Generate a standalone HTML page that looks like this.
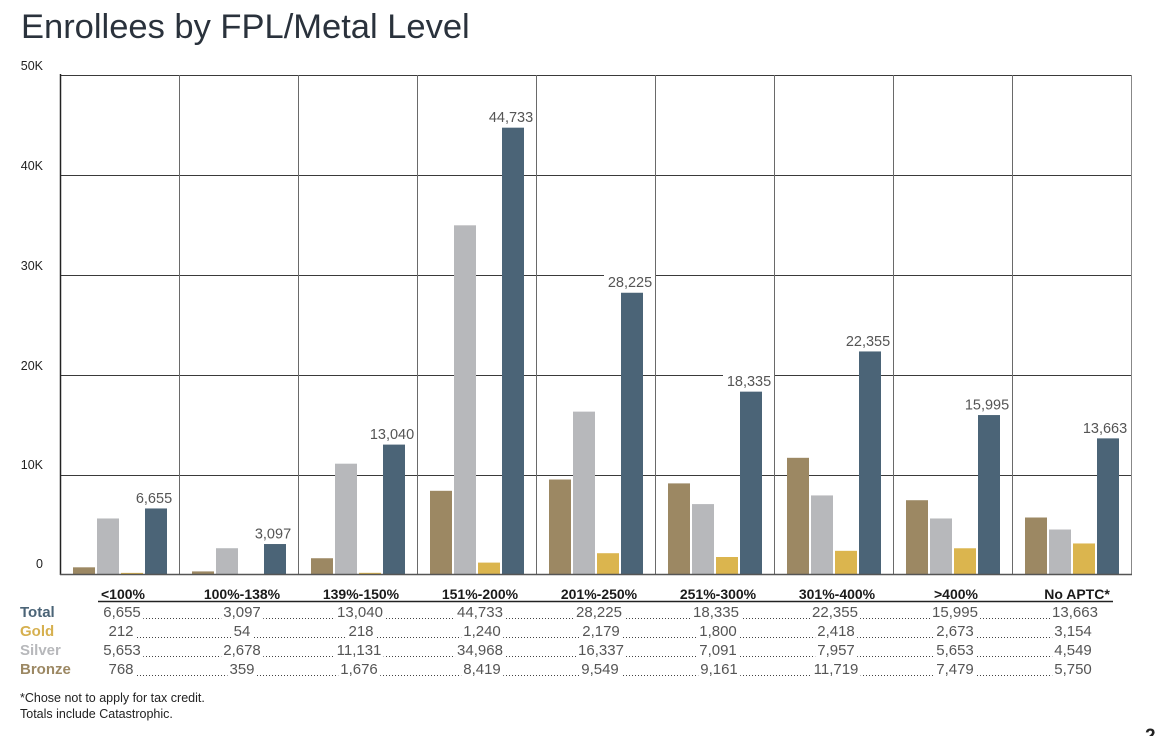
<!DOCTYPE html>
<html>
<head>
<meta charset="utf-8">
<style>
  html, body { margin:0; padding:0; background:#fff; }
  body { width:1164px; height:736px; position:relative; overflow:hidden; font-family:"Liberation Sans", sans-serif; }
  svg { position:absolute; left:0; top:0; }
  .row { position:absolute; left:0; width:1164px; height:20px; }
  .dots { position:absolute; left:122px; width:953px; height:1px; top:15px;
          background: repeating-linear-gradient(to right, #444 0 1px, transparent 1px 3px); }
  .v { position:absolute; top:0; transform:translateX(-50%); background:#fff; padding:0 2px;
       font-size:15px; line-height:20px; color:#555; white-space:nowrap; }
  .lab { position:absolute; left:20px; top:0; font-size:15px; line-height:20px; font-weight:bold; }
</style>
</head>
<body>
<svg width="1164" height="736" viewBox="0 0 1164 736" xmlns="http://www.w3.org/2000/svg">
  <text x="21" y="38" font-family="Liberation Sans, sans-serif" font-size="34.5" fill="#2a323c">Enrollees by FPL/Metal Level</text>

  <!-- y labels -->
  <g font-family="Liberation Sans, sans-serif" font-size="12.5" fill="#222" text-anchor="end">
    <text x="43" y="70">50K</text>
    <text x="43" y="170">40K</text>
    <text x="43" y="270">30K</text>
    <text x="43" y="370">20K</text>
    <text x="43" y="469">10K</text>
    <text x="43" y="568">0</text>
  </g>

  <!-- horizontal grid -->
  <g stroke="#3a3a3a" stroke-width="1">
    <line x1="60" y1="75.5" x2="1132" y2="75.5"/>
    <line x1="60" y1="175.5" x2="1132" y2="175.5"/>
    <line x1="60" y1="275.5" x2="1132" y2="275.5"/>
    <line x1="60" y1="375.5" x2="1132" y2="375.5"/>
    <line x1="60" y1="475.5" x2="1132" y2="475.5"/>
  </g>

  <!-- label backgrounds -->
  <g fill="#fff">
    <rect x="129" y="490" width="50" height="16"/>
    <rect x="248" y="525.5" width="50" height="16"/>
    <rect x="367" y="426" width="50" height="16"/>
    <rect x="486" y="109" width="50" height="16"/>
    <rect x="604" y="274" width="52" height="16"/>
    <rect x="723" y="373" width="52" height="16"/>
    <rect x="842" y="333" width="52" height="16"/>
    <rect x="961" y="396.5" width="52" height="16"/>
    <rect x="1080" y="420" width="50" height="16"/>
  </g>

  <!-- vertical grid -->
  <g stroke="#6a6a6a" stroke-width="1">
    <line x1="179.5" y1="75" x2="179.5" y2="575"/>
    <line x1="298.5" y1="75" x2="298.5" y2="575"/>
    <line x1="417.5" y1="75" x2="417.5" y2="575"/>
    <line x1="536.5" y1="75" x2="536.5" y2="575"/>
    <line x1="655.5" y1="75" x2="655.5" y2="575"/>
    <line x1="774.5" y1="75" x2="774.5" y2="575"/>
    <line x1="893.5" y1="75" x2="893.5" y2="575"/>
    <line x1="1012.5" y1="75" x2="1012.5" y2="575"/>
    <line x1="1131.5" y1="75" x2="1131.5" y2="575" stroke="#888"/>
  </g>

  <!-- bars -->
  <g>
    <g fill="#9c8863">
      <rect x="73" y="567.32" width="22" height="7.68"/>
      <rect x="192" y="571.41" width="22" height="3.59"/>
      <rect x="311" y="558.24" width="22" height="16.76"/>
      <rect x="430" y="490.81" width="22" height="84.19"/>
      <rect x="549" y="479.51" width="22" height="95.49"/>
      <rect x="668" y="483.39" width="22" height="91.61"/>
      <rect x="787" y="457.81" width="22" height="117.19"/>
      <rect x="906" y="500.21" width="22" height="74.79"/>
      <rect x="1025" y="517.5" width="22" height="57.5"/>
    </g>
    <g fill="#b7b8bb">
      <rect x="97" y="518.47" width="22" height="56.53"/>
      <rect x="216" y="548.22" width="22" height="26.78"/>
      <rect x="335" y="463.69" width="22" height="111.31"/>
      <rect x="454" y="225.32" width="22" height="349.68"/>
      <rect x="573" y="411.63" width="22" height="163.37"/>
      <rect x="692" y="504.09" width="22" height="70.91"/>
      <rect x="811" y="495.43" width="22" height="79.57"/>
      <rect x="930" y="518.47" width="22" height="56.53"/>
      <rect x="1049" y="529.51" width="22" height="45.49"/>
    </g>
    <g fill="#dbb54e">
      <rect x="121" y="572.88" width="22" height="2.12"/>
      <rect x="240" y="574.2" width="22" height="0.8"/>
      <rect x="359" y="572.82" width="22" height="2.18"/>
      <rect x="478" y="562.6" width="22" height="12.4"/>
      <rect x="597" y="553.21" width="22" height="21.79"/>
      <rect x="716" y="557" width="22" height="18"/>
      <rect x="835" y="550.82" width="22" height="24.18"/>
      <rect x="954" y="548.27" width="22" height="26.73"/>
      <rect x="1073" y="543.46" width="22" height="31.54"/>
    </g>
    <g fill="#4b6477">
      <rect x="145" y="508.45" width="22" height="66.55"/>
      <rect x="264" y="544.03" width="22" height="30.97"/>
      <rect x="383" y="444.6" width="22" height="130.4"/>
      <rect x="502" y="127.67" width="22" height="447.33"/>
      <rect x="621" y="292.75" width="22" height="282.25"/>
      <rect x="740" y="391.65" width="22" height="183.35"/>
      <rect x="859" y="351.45" width="22" height="223.55"/>
      <rect x="978" y="415.05" width="22" height="159.95"/>
      <rect x="1097" y="438.37" width="22" height="136.63"/>
    </g>
  </g>

  <!-- axes -->
  <line x1="60.5" y1="74" x2="60.5" y2="575" stroke="#222" stroke-width="1.5"/>
  <line x1="60" y1="574.5" x2="1132" y2="574.5" stroke="#555" stroke-width="1.5"/>

  <!-- total labels -->
  <g font-family="Liberation Sans, sans-serif" font-size="14.5" fill="#555" text-anchor="middle">
    <text x="154" y="503">6,655</text>
    <text x="273" y="538.5">3,097</text>
    <text x="392" y="439">13,040</text>
    <text x="511" y="122">44,733</text>
    <text x="630" y="287">28,225</text>
    <text x="749" y="386">18,335</text>
    <text x="868" y="346">22,355</text>
    <text x="987" y="409.5">15,995</text>
    <text x="1105" y="433">13,663</text>
  </g>

  <!-- category headers -->
  <g font-family="Liberation Sans, sans-serif" font-size="14" font-weight="bold" fill="#1a1a1a" text-anchor="middle">
    <text x="123" y="599">&lt;100%</text>
    <text x="242" y="599">100%-138%</text>
    <text x="361" y="599">139%-150%</text>
    <text x="480" y="599">151%-200%</text>
    <text x="599" y="599">201%-250%</text>
    <text x="718" y="599">251%-300%</text>
    <text x="837" y="599">301%-400%</text>
    <text x="956" y="599">&gt;400%</text>
    <text x="1077" y="599">No APTC*</text>
  </g>
  <line x1="98" y1="601.5" x2="1113" y2="601.5" stroke="#222" stroke-width="1.5"/>

  <!-- footnotes -->
  <g font-family="Liberation Sans, sans-serif" font-size="12.5" fill="#222">
    <text x="20" y="702">*Chose not to apply for tax credit.</text>
    <text x="20" y="718">Totals include Catastrophic.</text>
  </g>
  <text x="1145" y="742" font-family="Liberation Sans, sans-serif" font-size="19" font-weight="bold" fill="#222">2</text>
</svg>

<!-- table rows -->
<div class="row" style="top:603px;">
  <div class="lab" style="color:#4b6477;">Total</div>
  <div class="dots"></div>
  <span class="v" style="left:122px">6,655</span>
  <span class="v" style="left:242px">3,097</span>
  <span class="v" style="left:360px">13,040</span>
  <span class="v" style="left:480px">44,733</span>
  <span class="v" style="left:599px">28,225</span>
  <span class="v" style="left:716px">18,335</span>
  <span class="v" style="left:835px">22,355</span>
  <span class="v" style="left:955px">15,995</span>
  <span class="v" style="left:1075px">13,663</span>
</div>
<div class="row" style="top:622px;">
  <div class="lab" style="color:#d6b04f;">Gold</div>
  <div class="dots"></div>
  <span class="v" style="left:121px">212</span>
  <span class="v" style="left:242px">54</span>
  <span class="v" style="left:361px">218</span>
  <span class="v" style="left:482px">1,240</span>
  <span class="v" style="left:601px">2,179</span>
  <span class="v" style="left:718px">1,800</span>
  <span class="v" style="left:836px">2,418</span>
  <span class="v" style="left:955px">2,673</span>
  <span class="v" style="left:1073px">3,154</span>
</div>
<div class="row" style="top:641px;">
  <div class="lab" style="color:#b7b8bb;">Silver</div>
  <div class="dots"></div>
  <span class="v" style="left:122px">5,653</span>
  <span class="v" style="left:242px">2,678</span>
  <span class="v" style="left:359px">11,131</span>
  <span class="v" style="left:480px">34,968</span>
  <span class="v" style="left:601px">16,337</span>
  <span class="v" style="left:718px">7,091</span>
  <span class="v" style="left:836px">7,957</span>
  <span class="v" style="left:955px">5,653</span>
  <span class="v" style="left:1073px">4,549</span>
</div>
<div class="row" style="top:660px;">
  <div class="lab" style="color:#9c8863;">Bronze</div>
  <div class="dots"></div>
  <span class="v" style="left:121px">768</span>
  <span class="v" style="left:242px">359</span>
  <span class="v" style="left:359px">1,676</span>
  <span class="v" style="left:482px">8,419</span>
  <span class="v" style="left:600px">9,549</span>
  <span class="v" style="left:719px">9,161</span>
  <span class="v" style="left:836px">11,719</span>
  <span class="v" style="left:955px">7,479</span>
  <span class="v" style="left:1073px">5,750</span>
</div>
</body>
</html>
